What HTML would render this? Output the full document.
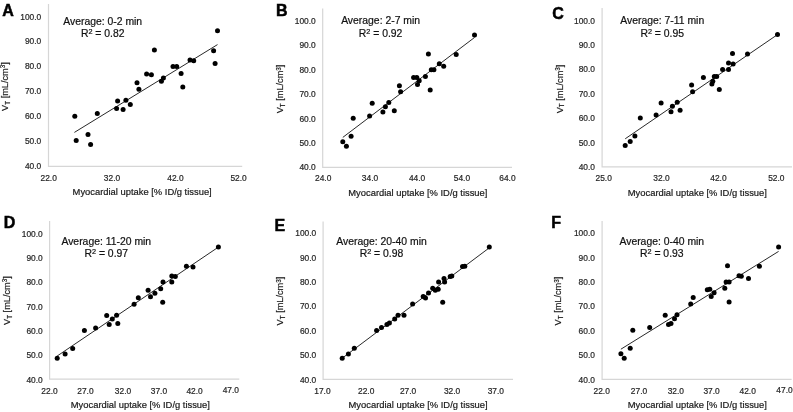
<!DOCTYPE html>
<html><head><meta charset="utf-8"><style>
html,body{margin:0;padding:0;background:#fff;width:793px;height:412px;overflow:hidden}
svg{display:block;will-change:transform}
text{font-family:"Liberation Sans", sans-serif;fill:#262626;stroke:#262626;stroke-width:0.2px}
.t{font-size:8.4px}
.an{font-size:10.4px;fill:#111;stroke:#111}
.ti{font-size:9.4px;fill:#1a1a1a;stroke:#1a1a1a}
.yt{font-size:9.2px;fill:#1a1a1a;stroke:#1a1a1a}
.sub,.sup{font-size:6.3px}
.sup2{font-size:7.28px}
.lt{font-size:16px;font-weight:bold;fill:#000;stroke:#000;stroke-width:0.5px}
circle{fill:#000}
</style></head><body>
<svg width="793" height="412" viewBox="0 0 793 412">
<rect width="793" height="412" fill="#fff"/>
<path d="M48.5 4.1V166.4H242.2" fill="none" stroke="#d6d6d6" stroke-width="1.2"/>
<text x="41.2" y="19.51" text-anchor="end" class="t">100.0</text>
<text x="41.2" y="44.49" text-anchor="end" class="t">90.0</text>
<text x="41.2" y="69.47" text-anchor="end" class="t">80.0</text>
<text x="41.2" y="94.46" text-anchor="end" class="t">70.0</text>
<text x="41.2" y="119.44" text-anchor="end" class="t">60.0</text>
<text x="41.2" y="144.42" text-anchor="end" class="t">50.0</text>
<text x="41.2" y="169.41" text-anchor="end" class="t">40.0</text>
<text x="48.7" y="181.2" text-anchor="middle" class="t">22.0</text>
<text x="112" y="181.2" text-anchor="middle" class="t">32.0</text>
<text x="175.4" y="181.2" text-anchor="middle" class="t">42.0</text>
<text x="238.6" y="181.2" text-anchor="middle" class="t">52.0</text>
<text x="142.15" y="195.4" text-anchor="middle" class="ti">Myocardial uptake [% ID/g tissue]</text>
<text transform="translate(8.06 86.55) rotate(-90)" text-anchor="middle" class="yt">V<tspan class="sub" dy="1.5">T</tspan><tspan dy="-1.5"> [mL/cm</tspan><tspan class="sup" dy="-2.7">3</tspan><tspan dy="2.7">]</tspan></text>
<text x="102.7" y="24.8" text-anchor="middle" class="an">Average: 0-2 min</text>
<text x="102.7" y="37.4" text-anchor="middle" class="an">R<tspan class="sup2" dy="-3.0">2</tspan><tspan dy="3.0"> = 0.82</tspan></text>
<text x="2.3" y="16" class="lt">A</text>
<line x1="74.4" y1="132.4" x2="217.5" y2="44.6" stroke="#111" stroke-width="0.9"/>
<circle cx="74.8" cy="116.2" r="2.5"/>
<circle cx="97.3" cy="113.4" r="2.5"/>
<circle cx="76.2" cy="140.4" r="2.5"/>
<circle cx="88" cy="134.6" r="2.5"/>
<circle cx="90.6" cy="144.6" r="2.5"/>
<circle cx="117.6" cy="101.1" r="2.5"/>
<circle cx="116.6" cy="108.5" r="2.5"/>
<circle cx="125.9" cy="100.3" r="2.5"/>
<circle cx="123.1" cy="109.6" r="2.5"/>
<circle cx="130.3" cy="104.4" r="2.5"/>
<circle cx="137" cy="82.7" r="2.5"/>
<circle cx="138.9" cy="89.2" r="2.5"/>
<circle cx="217.5" cy="30.7" r="2.5"/>
<circle cx="154.4" cy="50.1" r="2.5"/>
<circle cx="213.6" cy="50.8" r="2.5"/>
<circle cx="215.1" cy="63.5" r="2.5"/>
<circle cx="146.6" cy="74.1" r="2.5"/>
<circle cx="151.4" cy="74.8" r="2.5"/>
<circle cx="173" cy="66.5" r="2.5"/>
<circle cx="176.7" cy="66.5" r="2.5"/>
<circle cx="190" cy="59.9" r="2.5"/>
<circle cx="193.7" cy="60.8" r="2.5"/>
<circle cx="181.1" cy="73.5" r="2.5"/>
<circle cx="182.8" cy="87" r="2.5"/>
<circle cx="161.4" cy="81.3" r="2.5"/>
<circle cx="163.4" cy="77.9" r="2.5"/>
<path d="M322.7 8.4V167.3H512" fill="none" stroke="#d6d6d6" stroke-width="1.2"/>
<text x="315.7" y="24.01" text-anchor="end" class="t">100.0</text>
<text x="315.7" y="48.39" text-anchor="end" class="t">90.0</text>
<text x="315.7" y="72.77" text-anchor="end" class="t">80.0</text>
<text x="315.7" y="97.16" text-anchor="end" class="t">70.0</text>
<text x="315.7" y="121.54" text-anchor="end" class="t">60.0</text>
<text x="315.7" y="145.92" text-anchor="end" class="t">50.0</text>
<text x="315.7" y="170.31" text-anchor="end" class="t">40.0</text>
<text x="323.2" y="181.3" text-anchor="middle" class="t">24.0</text>
<text x="370" y="181.3" text-anchor="middle" class="t">34.0</text>
<text x="417.1" y="181.3" text-anchor="middle" class="t">44.0</text>
<text x="461.9" y="181.3" text-anchor="middle" class="t">54.0</text>
<text x="507.4" y="181.3" text-anchor="middle" class="t">64.0</text>
<text x="417.85" y="196.2" text-anchor="middle" class="ti">Myocardial uptake [% ID/g tissue]</text>
<text transform="translate(283.26 88.95) rotate(-90)" text-anchor="middle" class="yt">V<tspan class="sub" dy="1.5">T</tspan><tspan dy="-1.5"> [mL/cm</tspan><tspan class="sup" dy="-2.7">3</tspan><tspan dy="2.7">]</tspan></text>
<text x="380.6" y="24.4" text-anchor="middle" class="an">Average: 2-7 min</text>
<text x="380.6" y="37.1" text-anchor="middle" class="an">R<tspan class="sup2" dy="-3.0">2</tspan><tspan dy="3.0"> = 0.92</tspan></text>
<text x="276.1" y="15.8" class="lt">B</text>
<line x1="342.8" y1="137.4" x2="474.5" y2="37.5" stroke="#111" stroke-width="0.9"/>
<circle cx="342.8" cy="141.8" r="2.5"/>
<circle cx="346.4" cy="146.2" r="2.5"/>
<circle cx="351.1" cy="136.3" r="2.5"/>
<circle cx="353.2" cy="118.2" r="2.5"/>
<circle cx="369.6" cy="115.9" r="2.5"/>
<circle cx="372.2" cy="103.2" r="2.5"/>
<circle cx="382.9" cy="112.1" r="2.5"/>
<circle cx="385.4" cy="106.8" r="2.5"/>
<circle cx="388.8" cy="102.6" r="2.5"/>
<circle cx="394.3" cy="110.8" r="2.5"/>
<circle cx="399.4" cy="85.7" r="2.5"/>
<circle cx="400.6" cy="91.8" r="2.5"/>
<circle cx="474.5" cy="34.9" r="2.5"/>
<circle cx="428.4" cy="53.9" r="2.5"/>
<circle cx="456.2" cy="54.5" r="2.5"/>
<circle cx="439.3" cy="63.7" r="2.5"/>
<circle cx="443.7" cy="66.3" r="2.5"/>
<circle cx="431.3" cy="69.8" r="2.5"/>
<circle cx="433.9" cy="69.8" r="2.5"/>
<circle cx="425.4" cy="76.4" r="2.5"/>
<circle cx="413.6" cy="77.5" r="2.5"/>
<circle cx="416.8" cy="77.5" r="2.5"/>
<circle cx="419.2" cy="80.8" r="2.5"/>
<circle cx="417.5" cy="84.5" r="2.5"/>
<circle cx="430.2" cy="90" r="2.5"/>
<path d="M602.1 8V166.85H792" fill="none" stroke="#d6d6d6" stroke-width="1.2"/>
<text x="595" y="23.51" text-anchor="end" class="t">100.0</text>
<text x="595" y="47.92" text-anchor="end" class="t">90.0</text>
<text x="595" y="72.34" text-anchor="end" class="t">80.0</text>
<text x="595" y="96.76" text-anchor="end" class="t">70.0</text>
<text x="595" y="121.17" text-anchor="end" class="t">60.0</text>
<text x="595" y="145.59" text-anchor="end" class="t">50.0</text>
<text x="595" y="170.01" text-anchor="end" class="t">40.0</text>
<text x="603.7" y="181.2" text-anchor="middle" class="t">25.0</text>
<text x="661.5" y="181.2" text-anchor="middle" class="t">32.0</text>
<text x="718.4" y="181.2" text-anchor="middle" class="t">42.0</text>
<text x="776.3" y="181.2" text-anchor="middle" class="t">52.0</text>
<text x="697.35" y="195.8" text-anchor="middle" class="ti">Myocardial uptake [% ID/g tissue]</text>
<text transform="translate(562.96 88.95) rotate(-90)" text-anchor="middle" class="yt">V<tspan class="sub" dy="1.5">T</tspan><tspan dy="-1.5"> [mL/cm</tspan><tspan class="sup" dy="-2.7">3</tspan><tspan dy="2.7">]</tspan></text>
<text x="662.2" y="24.1" text-anchor="middle" class="an">Average: 7-11 min</text>
<text x="662.2" y="36.9" text-anchor="middle" class="an">R<tspan class="sup2" dy="-3.0">2</tspan><tspan dy="3.0"> = 0.95</tspan></text>
<text x="552.3" y="18.6" class="lt">C</text>
<line x1="625.2" y1="138.8" x2="777.5" y2="34.6" stroke="#111" stroke-width="0.9"/>
<circle cx="625.2" cy="145.6" r="2.5"/>
<circle cx="630.2" cy="141.4" r="2.5"/>
<circle cx="634.9" cy="136.1" r="2.5"/>
<circle cx="640.3" cy="117.9" r="2.5"/>
<circle cx="656.1" cy="115.1" r="2.5"/>
<circle cx="661.1" cy="102.9" r="2.5"/>
<circle cx="671" cy="111.7" r="2.5"/>
<circle cx="672.4" cy="106.2" r="2.5"/>
<circle cx="677.2" cy="102.3" r="2.5"/>
<circle cx="680.1" cy="110.3" r="2.5"/>
<circle cx="691.6" cy="84.9" r="2.5"/>
<circle cx="692.6" cy="91.7" r="2.5"/>
<circle cx="777.5" cy="34.6" r="2.5"/>
<circle cx="732.5" cy="53.4" r="2.5"/>
<circle cx="747.5" cy="54.1" r="2.5"/>
<circle cx="728.5" cy="63.1" r="2.5"/>
<circle cx="733.1" cy="63.9" r="2.5"/>
<circle cx="728.5" cy="69.4" r="2.5"/>
<circle cx="722.6" cy="69.4" r="2.5"/>
<circle cx="703.4" cy="77.5" r="2.5"/>
<circle cx="714.3" cy="76.4" r="2.5"/>
<circle cx="716.7" cy="76.4" r="2.5"/>
<circle cx="712.8" cy="81.2" r="2.5"/>
<circle cx="711.9" cy="84" r="2.5"/>
<circle cx="719.3" cy="89.5" r="2.5"/>
<path d="M49.6 221.1V379.2H239.3" fill="none" stroke="#d6d6d6" stroke-width="1.2"/>
<text x="42.7" y="236.51" text-anchor="end" class="t">100.0</text>
<text x="42.7" y="260.84" text-anchor="end" class="t">90.0</text>
<text x="42.7" y="285.17" text-anchor="end" class="t">80.0</text>
<text x="42.7" y="309.51" text-anchor="end" class="t">70.0</text>
<text x="42.7" y="333.84" text-anchor="end" class="t">60.0</text>
<text x="42.7" y="358.17" text-anchor="end" class="t">50.0</text>
<text x="42.7" y="382.51" text-anchor="end" class="t">40.0</text>
<text x="49.5" y="393.8" text-anchor="middle" class="t">22.0</text>
<text x="85.4" y="393.8" text-anchor="middle" class="t">27.0</text>
<text x="123" y="393.8" text-anchor="middle" class="t">32.0</text>
<text x="158.9" y="393.8" text-anchor="middle" class="t">37.0</text>
<text x="194.6" y="393.8" text-anchor="middle" class="t">42.0</text>
<text x="230.8" y="393.1" text-anchor="middle" class="t">47.0</text>
<text x="140.35" y="408.3" text-anchor="middle" class="ti">Myocardial uptake [% ID/g tissue]</text>
<text transform="translate(10.06 300.6) rotate(-90)" text-anchor="middle" class="yt">V<tspan class="sub" dy="1.5">T</tspan><tspan dy="-1.5"> [mL/cm</tspan><tspan class="sup" dy="-2.7">3</tspan><tspan dy="2.7">]</tspan></text>
<text x="106.3" y="244.7" text-anchor="middle" class="an">Average: 11-20 min</text>
<text x="106.3" y="257.1" text-anchor="middle" class="an">R<tspan class="sup2" dy="-3.0">2</tspan><tspan dy="3.0"> = 0.97</tspan></text>
<text x="3.8" y="227.7" class="lt">D</text>
<line x1="57.2" y1="356" x2="218.4" y2="247.1" stroke="#111" stroke-width="0.9"/>
<circle cx="57.2" cy="358.3" r="2.5"/>
<circle cx="65.1" cy="354.1" r="2.5"/>
<circle cx="72.7" cy="348.4" r="2.5"/>
<circle cx="84.4" cy="330.4" r="2.5"/>
<circle cx="95.6" cy="327.9" r="2.5"/>
<circle cx="106.7" cy="315.6" r="2.5"/>
<circle cx="109.2" cy="324.6" r="2.5"/>
<circle cx="112.3" cy="319.1" r="2.5"/>
<circle cx="116.6" cy="315.2" r="2.5"/>
<circle cx="117.8" cy="323.4" r="2.5"/>
<circle cx="134.1" cy="304.2" r="2.5"/>
<circle cx="138.3" cy="297.8" r="2.5"/>
<circle cx="148.1" cy="290.3" r="2.5"/>
<circle cx="150.5" cy="296.7" r="2.5"/>
<circle cx="218.4" cy="247.1" r="2.5"/>
<circle cx="186.4" cy="266.2" r="2.5"/>
<circle cx="193" cy="266.9" r="2.5"/>
<circle cx="171.8" cy="275.9" r="2.5"/>
<circle cx="175.3" cy="276.6" r="2.5"/>
<circle cx="171.8" cy="282.1" r="2.5"/>
<circle cx="163" cy="282.1" r="2.5"/>
<circle cx="154.9" cy="293.2" r="2.5"/>
<circle cx="160.7" cy="288.7" r="2.5"/>
<circle cx="162.7" cy="302.3" r="2.5"/>
<path d="M323.1 221.6V379.3H513" fill="none" stroke="#d6d6d6" stroke-width="1.2"/>
<text x="316.2" y="236.21" text-anchor="end" class="t">100.0</text>
<text x="316.2" y="260.59" text-anchor="end" class="t">90.0</text>
<text x="316.2" y="284.97" text-anchor="end" class="t">80.0</text>
<text x="316.2" y="309.36" text-anchor="end" class="t">70.0</text>
<text x="316.2" y="333.74" text-anchor="end" class="t">60.0</text>
<text x="316.2" y="358.12" text-anchor="end" class="t">50.0</text>
<text x="316.2" y="382.51" text-anchor="end" class="t">40.0</text>
<text x="322.4" y="394.2" text-anchor="middle" class="t">17.0</text>
<text x="366.2" y="394.2" text-anchor="middle" class="t">22.0</text>
<text x="408.1" y="394.2" text-anchor="middle" class="t">27.0</text>
<text x="452.1" y="394.2" text-anchor="middle" class="t">32.0</text>
<text x="495.8" y="394.2" text-anchor="middle" class="t">37.0</text>
<text x="418.1" y="408.3" text-anchor="middle" class="ti">Myocardial uptake [% ID/g tissue]</text>
<text transform="translate(283.26 301.05) rotate(-90)" text-anchor="middle" class="yt">V<tspan class="sub" dy="1.5">T</tspan><tspan dy="-1.5"> [mL/cm</tspan><tspan class="sup" dy="-2.7">3</tspan><tspan dy="2.7">]</tspan></text>
<text x="381.5" y="244.7" text-anchor="middle" class="an">Average: 20-40 min</text>
<text x="381.5" y="257.4" text-anchor="middle" class="an">R<tspan class="sup2" dy="-3.0">2</tspan><tspan dy="3.0"> = 0.98</tspan></text>
<text x="274.6" y="231" class="lt">E</text>
<line x1="342.2" y1="358.2" x2="489.3" y2="247.8" stroke="#111" stroke-width="0.9"/>
<circle cx="342.2" cy="358.3" r="2.5"/>
<circle cx="348.4" cy="354.1" r="2.5"/>
<circle cx="354.3" cy="348.3" r="2.5"/>
<circle cx="376.6" cy="330.4" r="2.5"/>
<circle cx="381.5" cy="327.5" r="2.5"/>
<circle cx="386.9" cy="324.4" r="2.5"/>
<circle cx="389.4" cy="323" r="2.5"/>
<circle cx="394.7" cy="319.1" r="2.5"/>
<circle cx="398" cy="315.2" r="2.5"/>
<circle cx="404" cy="315.2" r="2.5"/>
<circle cx="412.6" cy="304.1" r="2.5"/>
<circle cx="423.2" cy="296.4" r="2.5"/>
<circle cx="425.5" cy="297.9" r="2.5"/>
<circle cx="428.5" cy="293.1" r="2.5"/>
<circle cx="489.3" cy="247.1" r="2.5"/>
<circle cx="462.5" cy="266.5" r="2.5"/>
<circle cx="464.8" cy="266.2" r="2.5"/>
<circle cx="450.2" cy="276.6" r="2.5"/>
<circle cx="451.8" cy="275.9" r="2.5"/>
<circle cx="444" cy="278.6" r="2.5"/>
<circle cx="444.6" cy="282.1" r="2.5"/>
<circle cx="438.6" cy="282.1" r="2.5"/>
<circle cx="432.7" cy="288.3" r="2.5"/>
<circle cx="435.3" cy="290.3" r="2.5"/>
<circle cx="438.2" cy="289.3" r="2.5"/>
<circle cx="442.7" cy="302.3" r="2.5"/>
<path d="M602.1 221.1V379.3H791.6" fill="none" stroke="#d6d6d6" stroke-width="1.2"/>
<text x="594.9" y="236.21" text-anchor="end" class="t">100.0</text>
<text x="594.9" y="260.59" text-anchor="end" class="t">90.0</text>
<text x="594.9" y="284.97" text-anchor="end" class="t">80.0</text>
<text x="594.9" y="309.36" text-anchor="end" class="t">70.0</text>
<text x="594.9" y="333.74" text-anchor="end" class="t">60.0</text>
<text x="594.9" y="358.12" text-anchor="end" class="t">50.0</text>
<text x="594.9" y="382.51" text-anchor="end" class="t">40.0</text>
<text x="601.7" y="394.4" text-anchor="middle" class="t">22.0</text>
<text x="639" y="394.4" text-anchor="middle" class="t">27.0</text>
<text x="675.8" y="394.4" text-anchor="middle" class="t">32.0</text>
<text x="711.6" y="394.4" text-anchor="middle" class="t">37.0</text>
<text x="747.7" y="394.4" text-anchor="middle" class="t">42.0</text>
<text x="784.5" y="393.1" text-anchor="middle" class="t">47.0</text>
<text x="697.35" y="408.3" text-anchor="middle" class="ti">Myocardial uptake [% ID/g tissue]</text>
<text transform="translate(561.46 301.05) rotate(-90)" text-anchor="middle" class="yt">V<tspan class="sub" dy="1.5">T</tspan><tspan dy="-1.5"> [mL/cm</tspan><tspan class="sup" dy="-2.7">3</tspan><tspan dy="2.7">]</tspan></text>
<text x="661.8" y="244.7" text-anchor="middle" class="an">Average: 0-40 min</text>
<text x="661.8" y="257.4" text-anchor="middle" class="an">R<tspan class="sup2" dy="-3.0">2</tspan><tspan dy="3.0"> = 0.93</tspan></text>
<text x="551.3" y="227.7" class="lt">F</text>
<line x1="620.9" y1="349.2" x2="778.6" y2="251.4" stroke="#111" stroke-width="0.9"/>
<circle cx="620.9" cy="353.7" r="2.5"/>
<circle cx="624.2" cy="358.2" r="2.5"/>
<circle cx="630.2" cy="348.3" r="2.5"/>
<circle cx="632.8" cy="330.2" r="2.5"/>
<circle cx="649.7" cy="327.5" r="2.5"/>
<circle cx="665.2" cy="315.2" r="2.5"/>
<circle cx="668.5" cy="324.4" r="2.5"/>
<circle cx="671" cy="323.4" r="2.5"/>
<circle cx="674.5" cy="318.7" r="2.5"/>
<circle cx="677" cy="314.7" r="2.5"/>
<circle cx="690.7" cy="304" r="2.5"/>
<circle cx="693.2" cy="297.4" r="2.5"/>
<circle cx="778.6" cy="246.9" r="2.5"/>
<circle cx="727.5" cy="265.8" r="2.5"/>
<circle cx="759.4" cy="266.3" r="2.5"/>
<circle cx="739" cy="275.7" r="2.5"/>
<circle cx="741.3" cy="276.3" r="2.5"/>
<circle cx="748.5" cy="278.6" r="2.5"/>
<circle cx="726.1" cy="282.1" r="2.5"/>
<circle cx="729.1" cy="281.9" r="2.5"/>
<circle cx="724.8" cy="288.3" r="2.5"/>
<circle cx="707.3" cy="289.7" r="2.5"/>
<circle cx="709.8" cy="289.3" r="2.5"/>
<circle cx="714.1" cy="292.8" r="2.5"/>
<circle cx="711.2" cy="296.5" r="2.5"/>
<circle cx="729.1" cy="301.9" r="2.5"/>
</svg>
</body></html>
